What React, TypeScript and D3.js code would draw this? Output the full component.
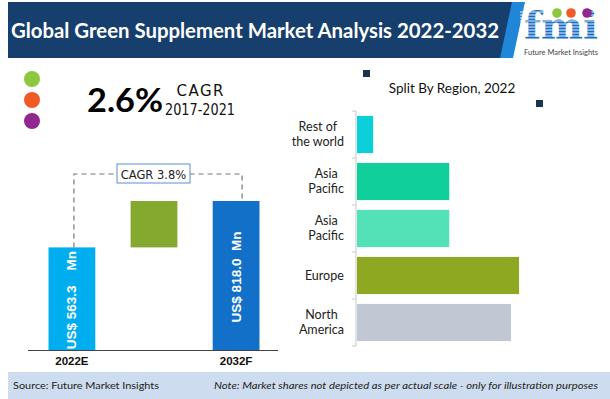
import { useEffect, useRef } from 'react';
import * as d3 from 'd3';

// left panel: market value
const valueCats = ['2022E', 'growth', '2032F'];
const marketValues = [563.3, 818.0];
const valueLabels = ['US$\u00a0563.3\u00a0\u00a0\u00a0\u00a0Mn', 'US$\u00a0818.0\u00a0\u00a0Mn'];
const cagrHistoric = '2.6%';
const cagrHistoricPeriod = '2017-2021';
const cagrForecast = 'CAGR 3.8%';

// right panel: split by region
const regionLabels = [['Rest of', 'the world'], ['Asia', 'Pacific'], ['Asia', 'Pacific'], ['Europe'], ['North', 'America']];
const regionShares = [2.8, 16.0, 16.0, 28.1, 26.7];
const regionColors = ['#0bd0d9', '#10cf9b', '#53e1b7', '#8ea921', '#c1c8d4'];

const W = 610;
const H = 399;

export default function App() {
  const svgRef = useRef<SVGSVGElement>(null);

  useEffect(() => {
    if (!svgRef.current) return;
    const svg = d3.select(svgRef.current);
    svg.selectAll('*').remove();

    svg.append('rect').attr('width', W).attr('height', H).attr('fill', '#fff');

    // header band
    svg.append('path')
      .attr('d', 'M8,2 L514,2 L502,58 L8,58 Z')
      .attr('fill', '#173f6d');
    svg.append('path')
      .attr('d', 'M512,2 L525,2 L513,58 L500,58 Z')
      .attr('fill', '#1f86d8');
    svg.append('text')
      .attr('x', 11)
      .attr('y', 38)
      .attr('fill', '#fff')
      .attr('font-family', 'Lato, sans-serif')
      .attr('font-weight', 700)
      .attr('font-size', 20.5)
      .attr('textLength', 488)
      .attr('lengthAdjust', 'spacingAndGlyphs')
      .text('Global Green Supplement Market Analysis 2022-2032');

    // logo
    const logo = svg.append('g');
    logo.append('text')
      .attr('x', 561)
      .attr('y', 39)
      .attr('text-anchor', 'middle')
      .attr('fill', '#1a6fc4')
      .attr('font-family', '"DejaVu Serif", serif')
      .attr('font-weight', 700)
      .attr('font-size', 38)
      .attr('textLength', 74)
      .attr('lengthAdjust', 'spacingAndGlyphs')
      .text('fmi');
    d3.range(12, 41, 3).forEach(y => {
      logo.append('line')
        .attr('x1', 520).attr('x2', 604)
        .attr('y1', y).attr('y2', y)
        .attr('stroke', '#fff').attr('stroke-width', 0.9);
    });
    [['#8dc63f', 557], ['#f15a24', 571], ['#92278f', 587]].forEach(([c, x]) => {
      logo.append('circle').attr('cx', x).attr('cy', 13).attr('r', 4.8).attr('fill', c as string);
    });
    logo.append('text')
      .attr('x', 561)
      .attr('y', 55)
      .attr('text-anchor', 'middle')
      .attr('fill', '#444')
      .attr('font-family', 'Lato, sans-serif')
      .attr('font-size', 7.5)
      .attr('textLength', 74)
      .text('Future Market Insights');

    // legend dots
    ['#8dc63f', '#f15a24', '#92278f'].forEach((c, i) => {
      svg.append('circle').attr('cx', 32).attr('cy', 79 + i * 21).attr('r', 8).attr('fill', c);
    });

    // historic CAGR
    svg.append('text')
      .attr('x', 87).attr('y', 112)
      .attr('font-family', 'Lato, sans-serif')
      .attr('font-weight', 700)
      .attr('font-size', 33)
      .attr('fill', '#000')
      .attr('textLength', 76)
      .attr('lengthAdjust', 'spacingAndGlyphs')
      .text(cagrHistoric);
    svg.append('text')
      .attr('x', 200).attr('y', 96)
      .attr('text-anchor', 'middle')
      .attr('font-family', '"DejaVu Sans", sans-serif')
      .attr('font-size', 15)
      .attr('fill', '#111')
      .attr('textLength', 47)
      .text('CAGR');
    svg.append('text')
      .attr('x', 200).attr('y', 115)
      .attr('text-anchor', 'middle')
      .attr('font-family', '"DejaVu Sans", sans-serif')
      .attr('font-size', 15)
      .attr('fill', '#111')
      .attr('textLength', 70)
      .attr('lengthAdjust', 'spacingAndGlyphs')
      .text(cagrHistoricPeriod);

    // left waterfall
    const x = d3.scaleBand<string>()
      .domain(valueCats)
      .range([28, 280])
      .paddingInner(0.43)
      .paddingOuter(0.25);
    const y = d3.scaleLinear()
      .domain([0, marketValues[1]])
      .range([350, 201]);

    const bw = x.bandwidth();
    const cx0 = x('2022E')! + bw / 2;
    const cx1 = x('2032F')! + bw / 2;

    // dashed connector
    svg.append('path')
      .attr('d', `M${cx0 + 2},${y(marketValues[0])} V174 H${cx1 + 6} V${y(marketValues[1])}`)
      .attr('fill', 'none')
      .attr('stroke', '#777')
      .attr('stroke-width', 1.2)
      .attr('stroke-dasharray', '5,4');

    const bars = [
      { cat: '2022E', y0: 0, y1: marketValues[0], color: '#00aeef' },
      { cat: 'growth', y0: marketValues[0], y1: marketValues[1], color: '#84a92e' },
      { cat: '2032F', y0: 0, y1: marketValues[1], color: '#1270c8' },
    ];
    svg.selectAll('rect.wf')
      .data(bars)
      .join('rect')
      .attr('class', 'wf')
      .attr('x', d => x(d.cat)!)
      .attr('width', bw)
      .attr('y', d => y(d.y1))
      .attr('height', d => y(d.y0) - y(d.y1))
      .attr('fill', d => d.color);

    // cagr box
    svg.append('rect')
      .attr('x', 117).attr('y', 164)
      .attr('width', 73).attr('height', 19)
      .attr('fill', '#fff')
      .attr('stroke', '#5b8fd0')
      .attr('stroke-width', 1);
    svg.append('text')
      .attr('x', 153.5).attr('y', 178.5)
      .attr('text-anchor', 'middle')
      .attr('font-family', '"DejaVu Sans", sans-serif')
      .attr('font-size', 11.5)
      .attr('fill', '#222')
      .text(cagrForecast);

    // value labels in bars
    [['2022E', 0], ['2032F', 1]].forEach(([cat, i]) => {
      const v = marketValues[i as number];
      const cx = x(cat as string)! + bw / 2;
      const cy = (y(0) + y(v)) / 2 + 1.5;
      svg.append('text')
        .attr('transform', `translate(${cx},${cy}) rotate(-90)`)
        .attr('text-anchor', 'middle')
        .attr('dominant-baseline', 'central')
        .attr('font-family', '"Liberation Sans", Arial, sans-serif')
        .attr('font-weight', 700)
        .attr('font-size', 13.5)
        .attr('fill', '#fff')
        .text(valueLabels[i as number]);
    });

    // baseline + category labels
    svg.append('line')
      .attr('x1', 28).attr('x2', 278)
      .attr('y1', 350.5).attr('y2', 350.5)
      .attr('stroke', '#444').attr('stroke-width', 1);
    ['2022E', '2032F'].forEach(c => {
      svg.append('text')
        .attr('x', x(c)! + bw / 2)
        .attr('y', 365)
        .attr('text-anchor', 'middle')
        .attr('font-family', '"Liberation Sans", Arial, sans-serif')
        .attr('font-weight', 700)
        .attr('font-size', 11.5)
        .attr('fill', '#111')
        .text(c);
    });

    // right panel
    svg.append('rect').attr('x', 363).attr('y', 70).attr('width', 7).attr('height', 7).attr('fill', '#1a3550');
    svg.append('rect').attr('x', 536).attr('y', 100).attr('width', 7).attr('height', 7).attr('fill', '#1a3550');
    svg.append('text')
      .attr('x', 452).attr('y', 93)
      .attr('text-anchor', 'middle')
      .attr('font-family', 'Lato, sans-serif')
      .attr('font-size', 13.5)
      .attr('fill', '#111')
      .text('Split By Region, 2022');

    const idx = regionShares.map((_, i) => String(i));
    const ry = d3.scaleBand<string>()
      .domain(idx)
      .range([111, 346])
      .paddingInner(0.21)
      .paddingOuter(0.105);
    const rx = d3.scaleLinear().domain([0, 30]).range([357, 530]);

    svg.selectAll('rect.region')
      .data(regionShares)
      .join('rect')
      .attr('class', 'region')
      .attr('x', rx(0))
      .attr('y', (_, i) => ry(String(i))!)
      .attr('height', ry.bandwidth())
      .attr('width', d => rx(d) - rx(0))
      .attr('fill', (_, i) => regionColors[i]);

    // axis with ticks at band edges
    svg.append('line')
      .attr('x1', 356).attr('x2', 356)
      .attr('y1', 111).attr('y2', 346)
      .attr('stroke', '#d0d0d0').attr('stroke-width', 1.2);
    d3.range(regionShares.length + 1).forEach(i => {
      const ty = 111 + i * ry.step();
      svg.append('line')
        .attr('x1', 352).attr('x2', 356)
        .attr('y1', ty).attr('y2', ty)
        .attr('stroke', '#d0d0d0').attr('stroke-width', 1.2);
    });

    regionLabels.forEach((lines, i) => {
      const mid = ry(String(i))! + ry.bandwidth() / 2;
      const t = svg.append('text')
        .attr('text-anchor', 'middle')
        .attr('font-family', 'Lato, sans-serif')
        .attr('font-size', 12.5)
        .attr('fill', '#222');
      const start = mid + 4 - ((lines.length - 1) * 15) / 2;
      lines.forEach((ln, j) => {
        t.append('tspan').attr('x', 0).attr('y', start + j * 15).text(ln);
      });
      const w = (t.node() as SVGTextElement).getBBox().width;
      t.selectAll('tspan').attr('x', 344 - w / 2);
    });

    // footer
    svg.append('rect')
      .attr('x', 8).attr('y', 372)
      .attr('width', W - 8).attr('height', H - 372)
      .attr('fill', '#cddcee');
    svg.append('text')
      .attr('x', 13).attr('y', 389)
      .attr('font-family', 'Lato, sans-serif')
      .attr('font-size', 10)
      .attr('fill', '#222')
      .attr('textLength', 146)
      .attr('lengthAdjust', 'spacingAndGlyphs')
      .text('Source: Future Market Insights');
    svg.append('text')
      .attr('x', 214).attr('y', 389)
      .attr('font-family', 'Lato, sans-serif')
      .attr('font-style', 'italic')
      .attr('font-size', 10)
      .attr('fill', '#222')
      .attr('textLength', 384)
      .attr('lengthAdjust', 'spacingAndGlyphs')
      .text('Note: Market shares not depicted as per actual scale - only for illustration purposes');
  }, []);

  return (
    <svg
      ref={svgRef}
      width={W}
      height={H}
      style={{ position: 'absolute', left: 0, top: 0, display: 'block' }}
    />
  );
}
